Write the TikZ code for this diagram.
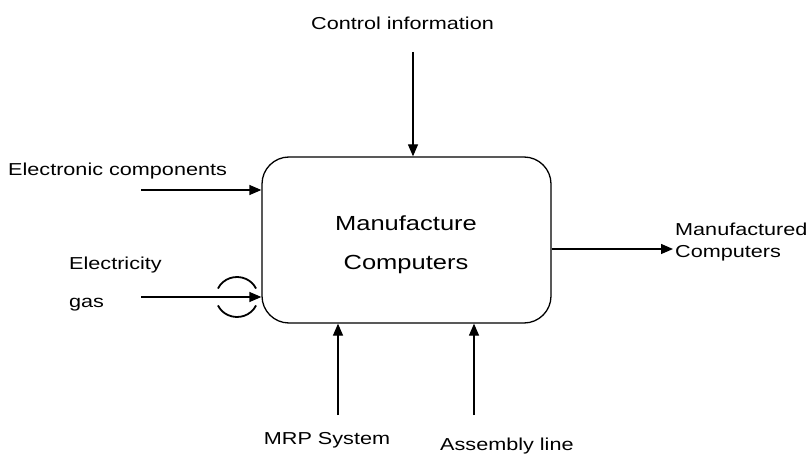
\documentclass[tikz,border=0pt]{standalone}
\usepackage{fontspec}
\setmainfont[FakeStretch=1.25]{Liberation Sans}
\usetikzlibrary{arrows.meta}
\begin{document}
\begin{tikzpicture}[x=1pt,y=-1pt,
  lbl/.style={font=\fontsize{17.3}{22}\selectfont, inner sep=0pt},
  flow/.style={line width=1.3pt, -{Triangle[length=12pt,width=10pt]}},
  procbox/.style={draw, line width=1.3pt, rounded corners=27pt, minimum width=289pt, minimum height=166pt, inner sep=0pt},
  tunnel/.style={line width=1.8pt}
]
\useasboundingbox (0,0) rectangle (811,454);
\fill[white] (0,0) rectangle (811,454);
% process box
\node[procbox] (box) at (406.5,240) {};
\node[anchor=north, align=center, font=\fontsize{20.4}{39}\selectfont, inner sep=0pt] (title) at (406,216) {Manufacture\\Computers};
% control
\node[lbl, anchor=base] (ctl) at (402.5,30) {Control information};
\coordinate (ctls) at (413,52);
\draw[flow] (ctls) -- (ctls |- box.north);
% inputs
\node[lbl, anchor=base west] (ec) at (8,176) {Electronic components};
\coordinate (ecs) at (141,190);
\draw[flow] (ecs) -- (ecs -| box.west);
\node[lbl, anchor=base west] (el) at (69,270) {Electricity};
\node[lbl, anchor=base west] (gas) at (69,308) {gas};
\coordinate (els) at (141,297);
\draw[flow] (els) -- (els -| box.west);
% tunnel arcs
\coordinate (tc) at (237,297);
\draw[tunnel] ([shift={(205:21 and 20)}]tc) arc[start angle=205, end angle=335, x radius=21, y radius=20];
\draw[tunnel] ([shift={(25:21 and 20)}]tc) arc[start angle=25, end angle=155, x radius=21, y radius=20];
% output
\coordinate (outs) at (673,249);
\draw[flow] (box.east |- outs) -- (outs);
\node[lbl, anchor=north west, align=left] (out) at (675,222.4) {Manufactured\\Computers};
% mechanisms
\coordinate (mrps) at (338,415);
\draw[flow] (mrps) -- (mrps |- box.south);
\node[lbl, anchor=base] (mrp) at (327,444) {MRP System};
\coordinate (asms) at (474,415);
\draw[flow] (asms) -- (asms |- box.south);
\node[lbl, anchor=base west] (asm) at (440,450) {Assembly line};
\end{tikzpicture}
\end{document}
